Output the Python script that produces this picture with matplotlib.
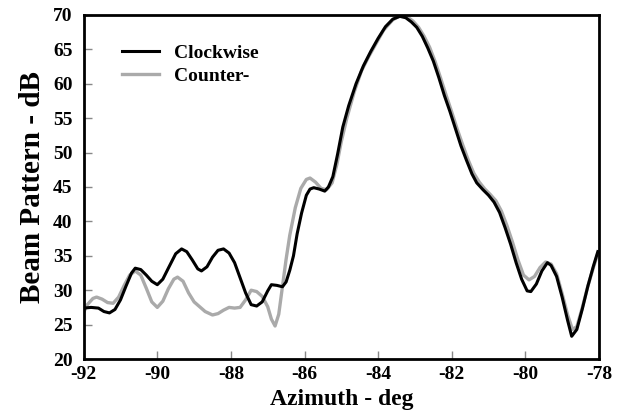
import numpy as np
import matplotlib.pyplot as plt

# Data (azimuth in deg, beam pattern in dB)
cw_az = [-92.0, -91.8, -91.6, -91.45, -91.3, -91.15, -91.0, -90.85, -90.7, -90.6,
         -90.45, -90.3, -90.15, -90.0, -89.85, -89.7, -89.5, -89.34, -89.2, -89.05,
         -88.9, -88.8, -88.65, -88.5, -88.35, -88.2, -88.05, -87.9, -87.75, -87.6,
         -87.45, -87.3, -87.15, -87.0, -86.9, -86.75, -86.6, -86.5, -86.4, -86.3,
         -86.2, -86.08, -85.95, -85.85, -85.75, -85.6, -85.45, -85.35, -85.23, -85.1,
         -84.96, -84.8, -84.6, -84.4, -84.2, -84.0, -83.8, -83.6, -83.41, -83.25,
         -83.1, -82.95, -82.8, -82.65, -82.5, -82.35, -82.2, -82.05, -81.9, -81.75,
         -81.6, -81.45, -81.32, -81.15, -81.0, -80.85, -80.7, -80.55, -80.4, -80.25,
         -80.1, -79.95, -79.85, -79.7, -79.55, -79.4, -79.3, -79.15, -79.0, -78.85,
         -78.74, -78.6, -78.45, -78.3, -78.15, -78.03]
cw_db = [27.4, 27.5, 27.4, 26.9, 26.7, 27.2, 28.6, 30.6, 32.5, 33.2,
         33.0, 32.2, 31.3, 30.8, 31.6, 33.2, 35.3, 36.0, 35.6, 34.4,
         33.1, 32.8, 33.4, 34.8, 35.8, 36.0, 35.4, 34.0, 31.8, 29.6,
         27.9, 27.7, 28.3, 29.9, 30.8, 30.7, 30.5, 31.2, 32.9, 35.0,
         38.2, 41.2, 43.8, 44.7, 44.9, 44.7, 44.4, 45.0, 46.5, 49.8,
         53.7, 56.8, 60.0, 62.6, 64.7, 66.6, 68.3, 69.4, 69.8, 69.6,
         69.0, 68.2, 66.9, 65.2, 63.3, 60.9, 58.3, 56.0, 53.5, 51.0,
         48.9, 46.9, 45.6, 44.6, 43.8, 42.8, 41.3, 39.1, 36.7, 34.0,
         31.6, 29.9, 29.8, 30.9, 32.8, 34.0, 33.6, 32.0, 29.0, 25.6,
         23.3, 24.3, 27.3, 30.6, 33.5, 35.6]

ccw_az = [-92.0, -91.9, -91.75, -91.65, -91.5, -91.35, -91.2, -91.05, -90.9, -90.75,
          -90.6, -90.45, -90.3, -90.15, -90.0, -89.85, -89.7, -89.55, -89.45, -89.3,
          -89.15, -89.0, -88.85, -88.7, -88.5, -88.35, -88.2, -88.05, -87.9, -87.75,
          -87.6, -87.45, -87.3, -87.15, -87.0, -86.9, -86.8, -86.7, -86.6, -86.5,
          -86.4, -86.25, -86.1, -85.95, -85.85, -85.7, -85.55, -85.4, -85.25, -85.12,
          -85.0, -84.85, -84.65, -84.45, -84.25, -84.05, -83.85, -83.6, -83.4, -83.2,
          -83.05, -82.9, -82.75, -82.6, -82.45, -82.3, -82.15, -82.0, -81.85, -81.7,
          -81.55, -81.4, -81.25, -81.1, -80.95, -80.8, -80.65, -80.5, -80.35, -80.2,
          -80.05, -79.9, -79.75, -79.6, -79.45, -79.3, -79.15, -79.0, -78.85, -78.72,
          -78.6, -78.45, -78.3, -78.15, -78.03]
ccw_db = [26.8, 27.9, 28.8, 29.0, 28.7, 28.2, 28.1, 29.0, 30.7, 32.2,
          32.8, 32.2, 30.3, 28.3, 27.5, 28.4, 30.2, 31.6, 31.9, 31.3,
          29.6, 28.3, 27.6, 26.9, 26.4, 26.6, 27.1, 27.5, 27.4, 27.5,
          28.6, 30.0, 29.8, 29.1, 27.6, 25.8, 24.8, 26.5, 30.5, 34.5,
          38.0, 42.0, 44.8, 46.1, 46.3, 45.7, 44.8, 44.6, 45.6, 48.3,
          51.6, 55.0, 58.8, 61.9, 64.0, 65.9, 67.8, 69.3, 69.9, 69.7,
          69.1, 68.2, 66.9, 65.3, 63.2, 60.8, 58.3, 55.9, 53.4, 51.1,
          48.9, 47.0, 45.7, 44.7, 43.9, 43.0, 41.5, 39.4, 37.0, 34.4,
          32.2, 31.5, 32.0, 33.3, 34.1, 33.8, 32.4, 29.5, 26.4, 24.3,
          24.7, 27.5, 30.6, 33.3, 35.3]

x_ticks = [-92, -90, -88, -86, -84, -82, -80, -78]
y_ticks = [20, 25, 30, 35, 40, 45, 50, 55, 60, 65, 70]

plt.rcParams['font.family'] = 'Liberation Serif'
plt.rcParams['font.weight'] = 'bold'
plt.rcParams['axes.unicode_minus'] = False

fig = plt.figure(figsize=(6.2, 4.16), dpi=100)
ax = fig.add_axes([0.135, 0.137, 0.831, 0.827])

ax.plot(ccw_az, ccw_db, color='#aaaaaa', linewidth=2.4, label='Counter-',
        solid_joinstyle='round', zorder=2)
ax.plot(cw_az, cw_db, color='black', linewidth=2.2, label='Clockwise',
        solid_joinstyle='round', zorder=3)

ax.set_xlim(-92, -78)
ax.set_ylim(20, 70)
ax.set_xticks(x_ticks)
ax.set_yticks(y_ticks)
ax.tick_params(direction='in', length=6, width=1.0, labelsize=14, color='#888888',
               top=False, right=False)
ax.tick_params(axis='x', pad=5)
ax.tick_params(axis='y', pad=8)
for lab in ax.get_xticklabels() + ax.get_yticklabels():
    lab.set_fontweight('bold')
for sp in ax.spines.values():
    sp.set_linewidth(2.0)

ax.set_xlabel('Azimuth - deg', fontsize=17, fontweight='bold', labelpad=4)
ax.set_ylabel('Beam Pattern - dB', fontsize=21, fontweight='bold', labelpad=5)

h, l = ax.get_legend_handles_labels()
ax.legend(h[::-1], l[::-1], loc='upper left', bbox_to_anchor=(0.04, 0.965),
          frameon=False, handlelength=1.9, handletextpad=0.8,
          labelspacing=0.25, prop={'weight': 'bold', 'size': 14})

fig.savefig('out.png', dpi=100)
